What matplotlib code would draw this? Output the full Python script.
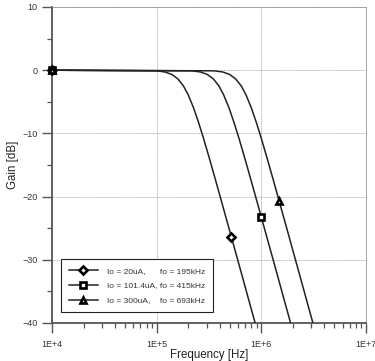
import numpy as np
import matplotlib
matplotlib.use("Agg")
import matplotlib.pyplot as plt
from matplotlib.ticker import LogLocator, MultipleLocator, FixedFormatter, FixedLocator

plt.rcParams['font.family'] = ['Liberation Sans', 'DejaVu Sans']

# gain curves (frequency in kHz, gain in dB)
freq_1 = [10, 100, 120, 140, 160, 180, 200, 225, 250, 280, 320, 370, 430, 500, 600, 700, 800, 900]
gain_1 = [0, -0.10, -0.28, -0.68, -1.40, -2.48, -3.89, -5.95, -8.15, -10.76, -14.03, -17.72, -21.60, -25.50, -30.24, -34.26, -37.75, -40.8]

freq_2 = [10, 218, 262, 305, 349, 393, 436, 491, 545, 611, 698, 807, 938, 1090, 1309, 1527, 1745, 1963]
gain_2 = [0, -0.10, -0.28, -0.68, -1.40, -2.48, -3.89, -5.95, -8.15, -10.76, -14.03, -17.72, -21.60, -25.50, -30.24, -34.26, -37.75, -40.8]

freq_3 = [10, 356, 428, 499, 570, 642, 713, 802, 891, 998, 1140, 1319, 1532, 1782, 2138, 2495, 2851, 3208]
gain_3 = [0, -0.10, -0.28, -0.68, -1.40, -2.48, -3.89, -5.95, -8.15, -10.76, -14.03, -17.72, -21.60, -25.50, -30.24, -34.26, -37.75, -40.8]

# marker positions (kHz, dB)
mark_f = [[10, 518], [10, 1000], [10, 1480]]
mark_g = [[0, -26.4], [0, -23.3], [0, -20.7]]
markers = ['D', 's', '^']
msizes = [4.3, 4.6, 5.0]
labels = ['Io = 20uA,      fo = 195kHz',
          'Io = 101.4uA, fo = 415kHz',
          'Io = 300uA,    fo = 693kHz']

fig = plt.figure(figsize=(3.75, 3.61), dpi=100)
ax = fig.add_axes([52 / 375, 38 / 361, 314 / 375, 316 / 361])

curves = [(freq_1, gain_1), (freq_2, gain_2), (freq_3, gain_3)]
handles = []
for i, (f, g) in enumerate(curves):
    ax.plot(np.array(f) * 1e3, g, color='#222222', lw=1.1, zorder=3)
    ax.plot(np.array(mark_f[i]) * 1e3, mark_g[i], ls='none', marker=markers[i],
            ms=msizes[i], mfc='white', mec='black', mew=1.9,
            zorder=4, clip_on=False)
    h, = ax.plot([], [], color='#222222', lw=1.1, marker=markers[i],
                 ms=msizes[i], mfc='white', mec='black', mew=1.9)
    handles.append(h)

ax.set_xscale('log')
ax.set_xlim(1e4, 1e7)
ax.set_ylim(-40, 10)

ax.xaxis.set_major_locator(FixedLocator([1e4, 1e5, 1e6, 1e7]))
ax.xaxis.set_major_formatter(FixedFormatter(['1E+4', '1E+5', '1E+6', '1E+7']))
ax.xaxis.set_minor_locator(LogLocator(base=10, subs=np.arange(2, 10), numticks=20))
ax.yaxis.set_major_locator(MultipleLocator(10))
ax.yaxis.set_minor_locator(MultipleLocator(5))

ax.grid(True, which='major', color='#999999', ls=(0, (1, 1)), lw=0.6)

for s in ['left', 'bottom']:
    ax.spines[s].set_color('#555555')
    ax.spines[s].set_linewidth(1.3)
for s in ['top', 'right']:
    ax.spines[s].set_color('#999999')
    ax.spines[s].set_linestyle((0, (1, 1)))
    ax.spines[s].set_linewidth(0.6)

ax.tick_params(which='major', direction='out', length=7.5, width=1.0, color='#555555',
               labelsize=6.5, labelcolor='#333333', pad=3)
ax.tick_params(which='minor', direction='out', length=3.5, width=0.9, color='#555555')
ax.tick_params(axis='x', which='major', pad=5)
ax.tick_params(top=False, right=False, which='both')

ax.set_xlabel('Frequency [Hz]', fontsize=8.3, color='#222222', labelpad=0)
ax.set_ylabel('Gain [dB]', fontsize=8.3, color='#222222', labelpad=2)

leg = ax.legend(handles, labels, loc='lower left', bbox_to_anchor=(0.029, 0.035),
                borderaxespad=0, fontsize=6, handlelength=3.5, handletextpad=1.1,
                labelspacing=0.85, fancybox=False, framealpha=1, borderpad=0.9)
leg.get_frame().set_edgecolor('#222222')
leg.get_frame().set_linewidth(0.8)
for t in leg.get_texts():
    t.set_color('#333333')

fig.savefig('out.png', dpi=100)
